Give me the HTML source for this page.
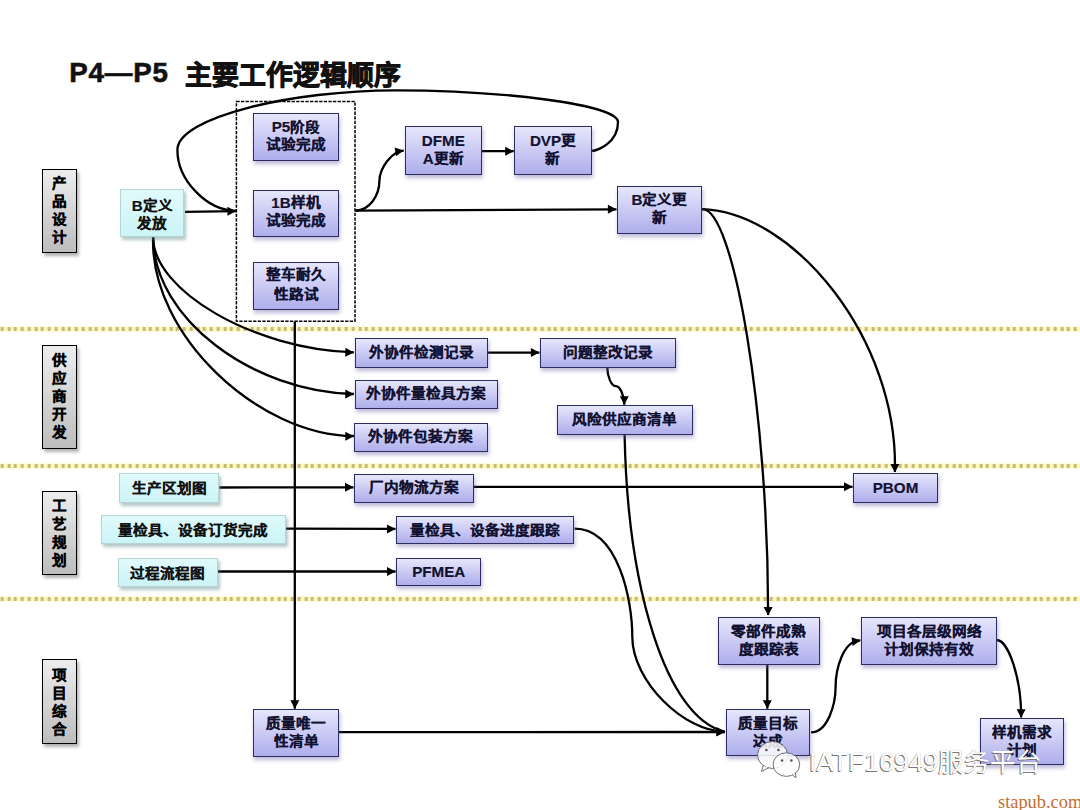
<!DOCTYPE html>
<html lang="zh-CN"><head><meta charset="utf-8">
<style>
html,body{margin:0;padding:0;background:#fff;}
body{width:1080px;height:810px;position:relative;overflow:hidden;font-family:"Liberation Sans",sans-serif;}
.title{position:absolute;font-weight:bold;color:#111;white-space:nowrap;}
.dl{position:absolute;left:0;width:1080px;height:4px;
 background:repeating-linear-gradient(90deg,#c8bb74 0,#c8bb74 2.9px,#fdf5c2 2.9px,#fdf5c2 6.75px);
 background-position:0.7px 0;box-shadow:0 0 2px 1px #fffbd8;}
.b{position:absolute;box-sizing:border-box;display:flex;align-items:center;justify-content:center;
 text-align:center;font-weight:bold;font-size:14.6px;line-height:18px;color:#121230;white-space:nowrap;-webkit-text-stroke:0.2px currentColor;}
.l{font-size:15.2px;}
.k{display:inline-block;transform:scaleY(0.9);}
.p{border:1px solid #2c2c5e;background:linear-gradient(#e6e6fc,#aeaeec);box-shadow:0.5px 3px 4px rgba(110,100,170,.45);}
.lh{line-height:19.8px;}
.two{padding-bottom:2px;}
.c{padding-top:1px;}
.c.two{padding-top:4px;padding-bottom:0;}
.c{border:1px solid #b6d4d4;background:linear-gradient(#e0fafb,#cbf4f7);box-shadow:2px 3px 3px rgba(90,130,130,.45);color:#111;}
.g{border:1.5px solid #000;-webkit-text-stroke:0.35px #000;background:linear-gradient(#ededed,#bdbdbd);box-shadow:2px 3px 3px rgba(0,0,0,.3);color:#111;}
svg{position:absolute;left:0;top:0;}
.wm{position:absolute;white-space:nowrap;color:#fff;font-size:26px;font-weight:300;
 text-shadow:-1px 1px 0 #777, 0 0 1px #999;}
.st{position:absolute;font-family:"Liberation Serif",serif;color:#c46e32;font-size:18.4px;white-space:nowrap;}
</style></head><body>
<div class="title" style="left:69.2px;top:57px;font-size:27.7px;line-height:32px;letter-spacing:0.8px;-webkit-text-stroke:0.6px #111">P4—P5</div>
<div class="title" style="left:185px;top:53.5px;font-size:26.8px;-webkit-text-stroke:0.9px #111">主要工作逻辑顺序</div>
<div class="dl" style="top:327px"></div>
<div class="dl" style="top:463.5px"></div>
<div class="dl" style="top:596.8px"></div>
<svg width="1080" height="810" viewBox="0 0 1080 810">
<rect x="236.4" y="101.4" width="118.6" height="219.8" fill="none" stroke="#000" stroke-width="1.5" stroke-dasharray="3.3 1.3"/>
<g fill="none" stroke="#000" stroke-width="2.3">
<path d="M185,211.8 L236,211.2"/>
<path d="M355.4,210.6 L616.5,209.3"/>
<path d="M355.4,210.6 C369.9,210.6 379.4,194.9 379.4,181.1 C379.4,167.4 392.8,150.6 403.8,150.6"/>
<path d="M481.5,151.2 L513.8,151.2"/>
<path d="M591.5,151 C596.9,151.0 618.0,143.1 618.0,122.2 C618.0,103.5 494.3,90.3 395.3,90.3 C293.1,90.3 177.4,117.0 177.4,149.9 C177.4,179.7 206.3,210.5 236.0,210.8"/>
<path d="M701.7,209.2 C733.5,205.5 768.5,414.3 768.1,615"/>
<path d="M701.7,209.2 C793.3,211.6 898.6,338.8 894.9,472"/>
<path d="M153.1,237.6 C153.6,290.4 252.8,349.3 353.9,352.3"/>
<path d="M153.1,237.6 C153.8,318.9 252.8,391.9 353.9,394"/>
<path d="M153.1,237.6 C150.2,335.4 258.9,435.8 353.9,436"/>
<path d="M294.8,321.5 L294.8,708.8"/>
<path d="M487.5,352.6 L539.5,352.6"/>
<path d="M607.3,367.6 C607.3,376.90000000000003 611.55,386.20000000000005 615.8,386.20000000000005 C620.05,386.20000000000005 624.3,395.5 624.3,404.8"/>
<path d="M219.4,487.5 L353.6,487.3"/>
<path d="M473.75,486.8 L852.6,486.8"/>
<path d="M285.6,528.7 L395.6,528.9"/>
<path d="M217.6,571.5 L395.6,571.5"/>
<path d="M574.6,528.6 C618.5,528.6 632.3,600.7 632.3,636.7 C632.3,681.5 684.5,731.6 724.4,731.6"/>
<path d="M624.6,434.6 C627.5,587.7 665.7,717.2 724.4,731.6"/>
<path d="M338.75,732.2 L725,732"/>
<path d="M767.3,664.5 L767.3,708.8"/>
<path d="M811,732.4 C827.9,732.4 835.6,703.8 835.6,686.7 C835.6,670.0 842.9,640.4 860.3,640.4"/>
<path d="M996.6,640 C1008.5,640.1 1021.6,679.3 1021.1,717.6"/>
</g>
<g fill="#000" stroke="none">
<polygon points="236.00,211.20 227.45,215.80 227.35,206.80"/>
<polygon points="616.50,209.30 607.92,213.84 607.88,204.84"/>
<polygon points="403.80,150.60 395.96,156.33 394.63,147.43"/>
<polygon points="513.80,151.20 505.20,155.70 505.20,146.70"/>
<polygon points="768.10,615.50 763.60,606.90 772.60,606.90"/>
<polygon points="894.90,472.50 890.40,463.90 899.40,463.90"/>
<polygon points="353.90,352.50 345.21,356.83 345.39,347.83"/>
<polygon points="353.90,394.20 345.21,398.53 345.39,389.53"/>
<polygon points="353.90,436.20 345.30,440.70 345.30,431.70"/>
<polygon points="294.80,708.80 290.30,700.20 299.30,700.20"/>
<polygon points="539.50,352.60 530.90,357.10 530.90,348.10"/>
<polygon points="624.30,404.80 619.80,396.20 628.80,396.20"/>
<polygon points="353.60,487.30 345.01,491.81 344.99,482.81"/>
<polygon points="852.60,486.80 844.00,491.30 844.00,482.30"/>
<polygon points="395.60,528.90 386.99,533.38 387.01,524.38"/>
<polygon points="395.60,571.50 387.00,576.00 387.00,567.00"/>
<polygon points="725.00,731.60 716.40,736.10 716.40,727.10"/>
<polygon points="725.00,732.00 716.40,736.50 716.40,727.50"/>
<polygon points="767.30,708.80 762.80,700.20 771.80,700.20"/>
<polygon points="860.60,640.60 852.60,646.09 851.53,637.16"/>
<polygon points="1021.10,717.80 1016.60,709.20 1025.60,709.20"/>
</g>
</svg>
<div class="b g" style="left:42px;top:169px;width:35px;height:84px"><span><span class="k">产</span><br><span class="k">品</span><br><span class="k">设</span><br><span class="k">计</span></span></div>
<div class="b g" style="left:42px;top:345px;width:35px;height:104px"><span><span class="k">供</span><br><span class="k">应</span><br><span class="k">商</span><br><span class="k">开</span><br><span class="k">发</span></span></div>
<div class="b g" style="left:42px;top:491px;width:35px;height:84px"><span><span class="k">工</span><br><span class="k">艺</span><br><span class="k">规</span><br><span class="k">划</span></span></div>
<div class="b g" style="left:42px;top:659px;width:35px;height:85px"><span><span class="k">项</span><br><span class="k">目</span><br><span class="k">综</span><br><span class="k">合</span></span></div>
<div class="b c two" style="left:120.2px;top:189.3px;width:64.3px;height:47.9px"><span><span class="l">B</span><span class="k">定义</span><br><span class="k">发放</span></span></div>
<div class="b c" style="left:119.4px;top:473.2px;width:100px;height:29.8px"><span><span class="k">生产区划图</span></span></div>
<div class="b c" style="left:100.6px;top:515.4px;width:185px;height:28.6px"><span><span class="k">量检具、设备订货完成</span></span></div>
<div class="b c" style="left:117.8px;top:557.6px;width:99.8px;height:29.1px"><span><span class="k">过程流程图</span></span></div>
<div class="b p two" style="left:253.25px;top:113.25px;width:85.5px;height:47.25px"><span><span class="l">P5</span><span class="k">阶段</span><br><span class="k">试验完成</span></span></div>
<div class="b p two" style="left:253.25px;top:189.5px;width:85.5px;height:47.25px"><span><span class="l">1B</span><span class="k">样机</span><br><span class="k">试验完成</span></span></div>
<div class="b p lh two" style="left:253.25px;top:261.5px;width:85.5px;height:48.5px"><span><span class="k">整车耐久</span><br><span class="k">性路试</span></span></div>
<div class="b p two" style="left:405px;top:126.25px;width:76.5px;height:48.75px"><span><span class="l">DFME</span><br><span class="l">A</span><span class="k">更新</span></span></div>
<div class="b p two" style="left:514.25px;top:126.25px;width:77.5px;height:48.75px"><span><span class="l">DVP</span><span class="k">更</span><br><span class="k">新</span></span></div>
<div class="b p two" style="left:617px;top:186.25px;width:84.75px;height:47.5px"><span><span class="l">B</span><span class="k">定义更</span><br><span class="k">新</span></span></div>
<div class="b p" style="left:354.5px;top:338.25px;width:133px;height:29.25px"><span><span class="k">外协件检测记录</span></span></div>
<div class="b p" style="left:540px;top:338.25px;width:135.5px;height:29.25px"><span><span class="k">问题整改记录</span></span></div>
<div class="b p" style="left:354.5px;top:379.5px;width:143px;height:29.5px"><span><span class="k">外协件量检具方案</span></span></div>
<div class="b p" style="left:557px;top:405px;width:135.5px;height:29.5px"><span><span class="k">风险供应商清单</span></span></div>
<div class="b p" style="left:354.25px;top:422.5px;width:133.25px;height:29.25px"><span><span class="k">外协件包装方案</span></span></div>
<div class="b p" style="left:354.25px;top:473.75px;width:119.5px;height:28.75px"><span><span class="k">厂内物流方案</span></span></div>
<div class="b p" style="left:853px;top:473.25px;width:85px;height:29.25px"><span><span class="l">PBOM</span></span></div>
<div class="b p" style="left:396.25px;top:515.5px;width:178px;height:28.75px"><span><span class="k">量检具、设备进度跟踪</span></span></div>
<div class="b p" style="left:396.25px;top:557.5px;width:85px;height:28.75px"><span><span class="l">PFMEA</span></span></div>
<div class="b p two" style="left:718.25px;top:616.75px;width:101.25px;height:47.75px"><span><span class="k">零部件成熟</span><br><span class="k">度跟踪表</span></span></div>
<div class="b p two" style="left:861.25px;top:616.75px;width:135.5px;height:47.75px"><span><span class="k">项目各层级网络</span><br><span class="k">计划保持有效</span></span></div>
<div class="b p two" style="left:253.25px;top:709.25px;width:85.5px;height:47.5px"><span><span class="k">质量唯一</span><br><span class="k">性清单</span></span></div>
<div class="b p two" style="left:726.25px;top:709.25px;width:83.75px;height:47px"><span><span class="k">质量目标</span><br><span class="k">达成</span></span></div>
<div class="b p two" style="left:979.5px;top:718.25px;width:84.25px;height:47px"><span><span class="k">样机需求</span><br><span class="k">计划</span></span></div>
<svg width="1080" height="810" viewBox="0 0 1080 810" style="z-index:5">
<g stroke="#606060" stroke-width="0.9" fill="#fdfdfd" fill-opacity="0.85">
<ellipse cx="772.5" cy="755" rx="15" ry="13.5"/>
<path d="M763,766 L761.5,771.5 L768.5,767.8"/>
<ellipse cx="786.4" cy="764.6" rx="13.3" ry="11.8"/>
<path d="M792.5,775 L796,777.8 L795.5,772.5"/>
</g>
<g fill="#555">
<circle cx="766.4" cy="750" r="1.3"/><circle cx="778.4" cy="750" r="1.3"/>
<circle cx="782.1" cy="760.5" r="1.3"/><circle cx="791.4" cy="760.5" r="1.3"/>
</g>
</svg>
<div class="wm" style="left:809px;top:741px;font-size:26.5px;z-index:6">IATF16949<span style="font-size:25.5px">服务平台</span></div>
<div class="st" style="left:998px;top:791.5px">stapub.com</div>
</body></html>
